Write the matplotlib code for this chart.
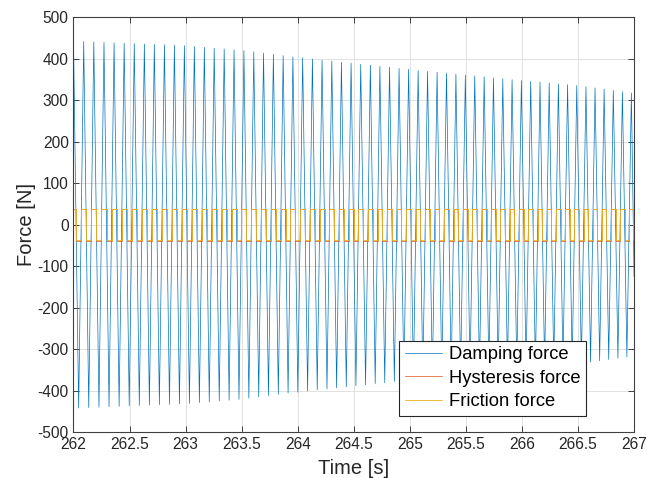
import numpy as np
import matplotlib
matplotlib.use("Agg")
import matplotlib.pyplot as plt
from matplotlib.ticker import FormatStrFormatter, MultipleLocator

plt.rcParams["font.family"] = ["Liberation Sans", "DejaVu Sans"]
plt.rcParams["axes.unicode_minus"] = False

# 阻尼力正峰值（时刻 / 数值）
t_top = [262.000, 262.091, 262.181, 262.272, 262.362, 262.452, 262.542, 262.632,
         262.721, 262.811, 262.900, 262.989, 263.078, 263.167, 263.255, 263.344,
         263.432, 263.520, 263.608, 263.695, 263.783, 263.870, 263.957, 264.044,
         264.131, 264.217, 264.304, 264.390, 264.476, 264.562, 264.648, 264.733,
         264.819, 264.904, 264.989, 265.074, 265.158, 265.243, 265.327, 265.411,
         265.495, 265.579, 265.663, 265.746, 265.829, 265.912, 265.995, 266.078,
         266.161, 266.243, 266.325, 266.407, 266.489, 266.571, 266.652, 266.733,
         266.815, 266.896, 266.976]
f_top = [443, 442, 441, 440, 439, 438, 437, 436, 435, 434, 433, 432, 430, 428, 426,
         424, 422, 420, 417, 414, 411, 408, 405, 403, 400, 397, 395, 392, 390, 387,
         385, 382, 380, 377, 375, 372, 370, 368, 366, 363, 361, 359, 357, 354, 352,
         350, 348, 346, 344, 342, 340, 338, 336, 333, 330, 327, 324, 321, 318]

# 阻尼力负峰值
t_bot = [262.046, 262.136, 262.227, 262.317, 262.407, 262.497, 262.587, 262.677,
         262.766, 262.856, 262.945, 263.034, 263.123, 263.211, 263.300, 263.388,
         263.476, 263.564, 263.652, 263.739, 263.827, 263.914, 264.001, 264.088,
         264.174, 264.261, 264.347, 264.433, 264.519, 264.605, 264.691, 264.776,
         264.862, 264.947, 265.032, 265.116, 265.201, 265.285, 265.369, 265.453,
         265.537, 265.621, 265.705, 265.788, 265.871, 265.954, 266.037, 266.120,
         266.202, 266.284, 266.366, 266.448, 266.530, 266.612, 266.693, 266.774,
         266.856, 266.936]
f_bot = [-442, -441, -440, -439, -438, -437, -436, -435, -434, -433, -432, -431,
         -429, -427, -425, -423, -421, -418, -415, -412, -409, -406, -404, -401,
         -398, -396, -393, -391, -388, -386, -383, -381, -378, -376, -373, -371,
         -369, -367, -364, -362, -360, -358, -355, -353, -351, -349, -347, -345,
         -343, -341, -339, -337, -334, -331, -328, -325, -322, -319]

t_end, f_end = 267.0, -125

# 迟滞力、摩擦力幅值 (N)
hyst_amp = 38
fric_amp = 37

# 按时间顺序拼接阻尼力曲线
t_damp = np.empty(len(t_top) + len(t_bot))
f_damp = np.empty_like(t_damp)
t_damp[0::2], f_damp[0::2] = t_top, f_top
t_damp[1::2], f_damp[1::2] = t_bot, f_bot
t_damp = np.append(t_damp, t_end)
f_damp = np.append(f_damp, f_end)

# 速度过零点：阻尼力过零的时刻，摩擦/迟滞力在此换向
t0, t1 = t_damp[:-1], t_damp[1:]
f0, f1 = f_damp[:-1], f_damp[1:]
t_zero = t0 + (t1 - t0) * f0 / (f0 - f1)
sign_after = np.sign(f1)


def square_wave(amp):
    ts, fs = [t_damp[0]], [amp * np.sign(f_damp[0])]
    for tz, s in zip(t_zero, sign_after):
        ts += [tz, tz]
        fs += [-amp * s, amp * s]
    ts.append(t_end)
    fs.append(amp * sign_after[-1])
    return np.array(ts), np.array(fs)


t_h, f_h = square_wave(hyst_amp)
t_f, f_f = square_wave(fric_amp)

fig = plt.figure(figsize=(6.47, 4.78), dpi=100)
ax = fig.add_axes([0.1136, 0.0962, 0.8664, 0.8672])

ax.plot(t_damp, f_damp, color="#0072BD", lw=0.5, label="Damping force")
ax.plot(t_h, f_h, color="#D95319", lw=0.5, label="Hysteresis force")
ax.plot(t_f, f_f, color="#EDB120", lw=0.6, label="Friction force")

ax.set_xlim(262, 267)
ax.set_ylim(-500, 500)
ax.xaxis.set_major_locator(MultipleLocator(0.5))
ax.yaxis.set_major_locator(MultipleLocator(100))
ax.xaxis.set_major_formatter(FormatStrFormatter("%g"))
ax.yaxis.set_major_formatter(FormatStrFormatter("%g"))

ax.grid(True, color="#dcdcdc", lw=0.6)
ax.set_axisbelow(True)
ax.tick_params(direction="in", top=True, right=True, length=4, width=0.6,
               colors="#262626", labelsize=11.2)
for sp in ax.spines.values():
    sp.set_color("#404040")
    sp.set_linewidth(0.8)

ax.set_xlabel("Time [s]", fontsize=14.5, color="#262626", labelpad=5)
ax.set_ylabel("Force [N]", fontsize=14.5, color="#262626", labelpad=1)

leg = ax.legend(loc="lower right", bbox_to_anchor=(0.9138, 0.0393),
                fontsize=13.2, frameon=True, fancybox=False, framealpha=1,
                edgecolor="#262626", borderpad=0.3, labelspacing=0.35,
                handlelength=2.05, handletextpad=0.35, borderaxespad=0)
leg.get_frame().set_linewidth(0.8)

plt.savefig("out.png", dpi=100)
plt.close()
